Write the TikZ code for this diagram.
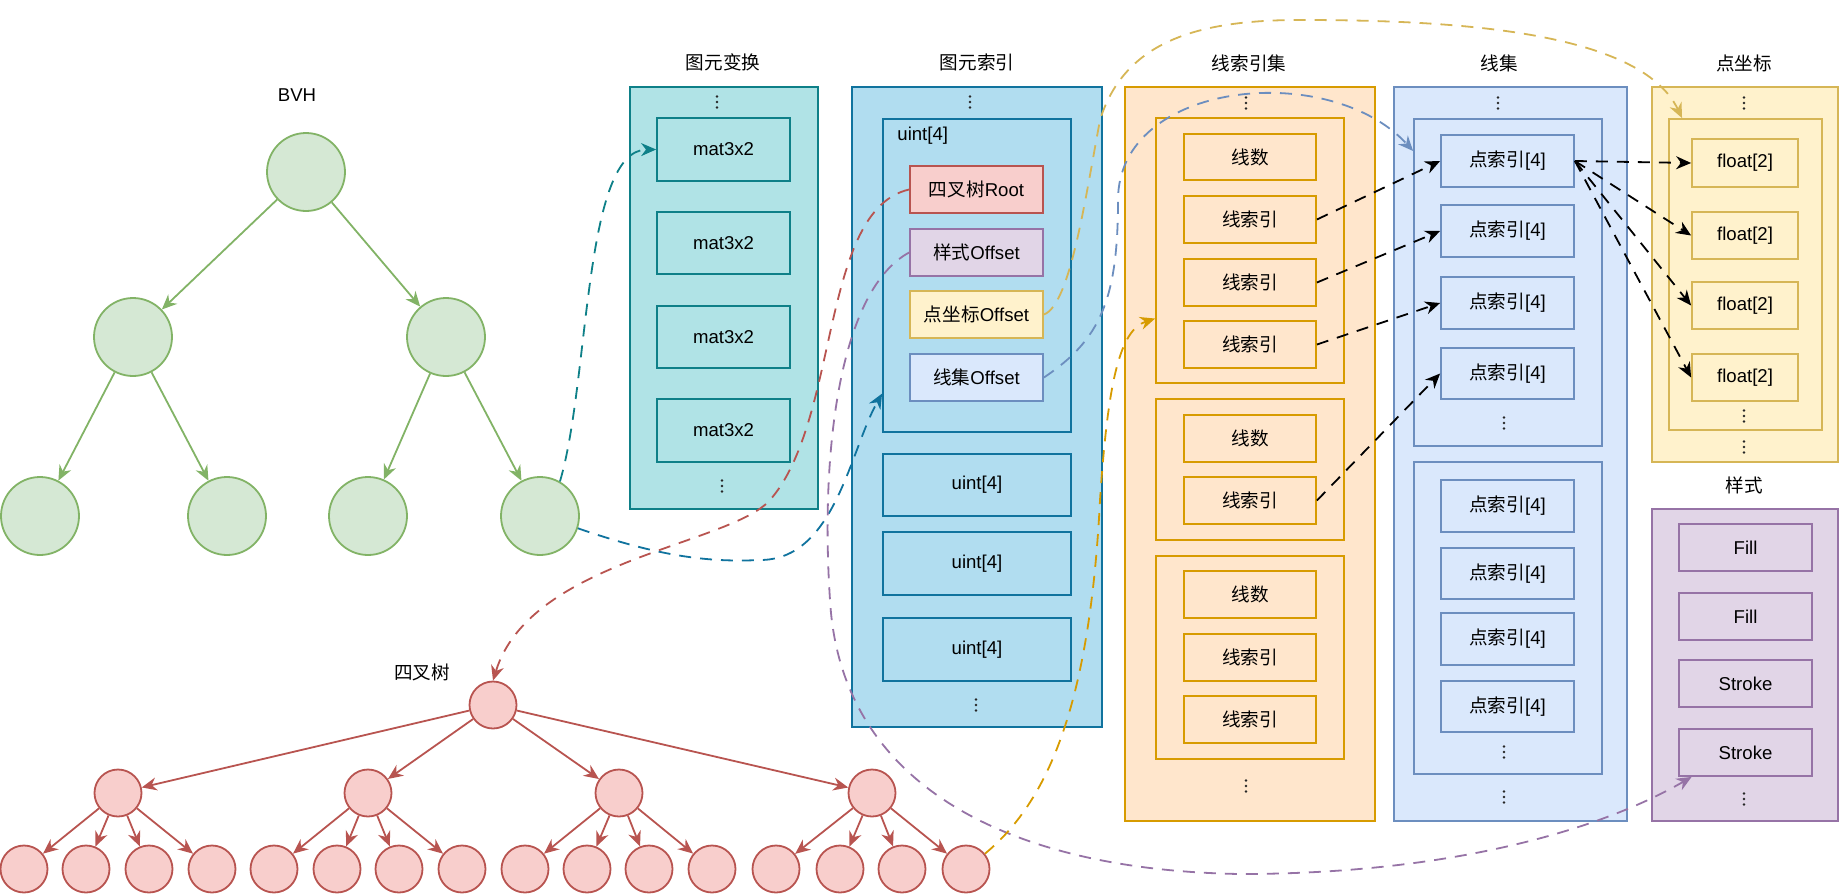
\documentclass[tikz,border=0pt]{standalone}
\usepackage{fontspec}
\setmainfont{Liberation Sans}
\newfontfamily\cjk{Noto Sans CJK SC}
\usetikzlibrary{arrows.meta,calc}
\newcommand\zh[1]{{\cjk #1}}
\definecolor{gfill}{HTML}{D5E8D4}\definecolor{gline}{HTML}{82B366}
\definecolor{rfill}{HTML}{F8CECC}\definecolor{rline}{HTML}{B85450}
\definecolor{tfill}{HTML}{B0E3E6}\definecolor{tline}{HTML}{0E8088}
\definecolor{bfill}{HTML}{B1DDF0}\definecolor{bline}{HTML}{10739E}
\definecolor{yfill}{HTML}{FFF2CC}\definecolor{yline}{HTML}{D6B656}
\definecolor{ofill}{HTML}{FFE6CC}\definecolor{oline}{HTML}{D79B00}
\definecolor{lfill}{HTML}{DAE8FC}\definecolor{lline}{HTML}{6C8EBF}
\definecolor{pfill}{HTML}{E1D5E7}\definecolor{pline}{HTML}{9673A6}
\newcommand\mybox[7]{\pgfmathsetmacro\myW{(#4-#2)/2}\pgfmathsetmacro\myH{(#5-#3)/2}%
  \node[#6,minimum width=\myW pt,minimum height=\myH pt] (#1) at ({(#2+#4)/2},{(#3+#5)/2}) {#7};}
\newcommand\vdt[2]{\fill[black!85] (#1,#2) ++(0,-5.5) circle[radius=0.7pt] (#1,#2) circle[radius=0.7pt] (#1,#2) ++(0,5.5) circle[radius=0.7pt];}
\tikzset{
  box/.style={draw,line width=0.9pt,inner sep=0pt},
  tbox/.style={box,draw=tline,fill=tfill},
  bbox/.style={box,draw=bline,fill=bfill},
  rbox/.style={box,draw=rline,fill=rfill},
  ybox/.style={box,draw=yline,fill=yfill},
  obox/.style={box,draw=oline,fill=ofill},
  lbox/.style={box,draw=lline,fill=lfill},
  pbox/.style={box,draw=pline,fill=pfill},
  gnode/.style={circle,draw=gline,fill=gfill,line width=0.9pt,minimum size=39pt,inner sep=0pt},
  rnode/.style={circle,draw=rline,fill=rfill,line width=0.9pt,minimum size=23.5pt,inner sep=0pt},
  tip/.style={-{Stealth[length=7.5pt,width=6.5pt]}},
  garrow/.style={tip,draw=gline,line width=0.9pt},
  rarrow/.style={tip,draw=rline,line width=0.9pt},
  dlink/.style={tip,line width=0.9pt,dash pattern=on 6pt off 4.5pt},
}
\begin{document}
\begin{tikzpicture}[x=0.5pt,y=-0.5pt,font=\fontsize{9.3}{11}\selectfont]
\useasboundingbox (0,0) rectangle (1840,894);
% ---------- labels ----------
\node (tBVH) at (297,95) {BVH};
\node (tQT) at (422,672) {\zh{四叉树}};
\node (tT) at (723,62) {\zh{图元变换}};
\node (tB) at (977,62) {\zh{图元索引}};
\node (tO) at (1249,63) {\zh{线索引集}};
\node (tL) at (1499,63) {\zh{线集}};
\node (tY) at (1744,63) {\zh{点坐标}};
\node (tP) at (1744,485) {\zh{样式}};
% ---------- BVH ----------
\node[gnode] (g0) at (306,172) {};
\node[gnode] (g1) at (133,337) {};
\node[gnode] (g2) at (446,337) {};
\node[gnode] (g3) at (40,516) {};
\node[gnode] (g4) at (227,516) {};
\node[gnode] (g5) at (368,516) {};
\node[gnode] (g6) at (540,516) {};
\draw[garrow] (g0) -- (g1);
\draw[garrow] (g0) -- (g2);
\draw[garrow] (g1) -- (g3);
\draw[garrow] (g1) -- (g4);
\draw[garrow] (g2) -- (g5);
\draw[garrow] (g2) -- (g6);
% ---------- quad tree ----------
\node[rnode] (r0) at (493,705) {};
\foreach \x [count=\i] in {118,368,619,872} \node[rnode] (r\i) at (\x,793) {};
\foreach \x [count=\i] in {24,86,149,212,274,337,399,462,525,587,649,712,776,840,902,966}
  \node[rnode] (rl\i) at (\x,869) {};
\foreach \i in {1,...,4} \draw[rarrow] (r0) -- (r\i);
\foreach \i in {1,...,16} {\pgfmathtruncatemacro\p{int((\i-1)/4)+1}\draw[rarrow] (r\p) -- (rl\i);}
% ---------- 图元变换 ----------
\mybox{T}{630}{87}{818}{509}{tbox}{}
\mybox{m1}{657}{118}{790}{181}{tbox}{mat3x2}
\mybox{m2}{657}{212}{790}{274}{tbox}{mat3x2}
\mybox{m3}{657}{306}{790}{368}{tbox}{mat3x2}
\mybox{m4}{657}{399}{790}{462}{tbox}{mat3x2}
\vdt{717}{102}\vdt{722}{486}
% ---------- 图元索引 ----------
\mybox{B}{852}{87}{1102}{727}{bbox}{}
\mybox{U}{883}{119}{1071}{432}{bbox}{}
\node[anchor=west,inner sep=0pt] (Ulab) at (897,136) {uint[4]};
\mybox{rt}{910}{166}{1043}{213}{rbox}{\zh{四叉树}Root}
\mybox{so}{910}{229}{1043}{276}{pbox}{\zh{样式}Offset}
\mybox{po}{910}{291}{1043}{338}{ybox}{\zh{点坐标}Offset}
\mybox{lo}{910}{354}{1043}{401}{lbox}{\zh{线集}Offset}
\mybox{u2}{883}{454}{1071}{516}{bbox}{uint[4]}
\mybox{u3}{883}{532}{1071}{595}{bbox}{uint[4]}
\mybox{u4}{883}{618}{1071}{681}{bbox}{uint[4]}
\vdt{970}{102}\vdt{976}{705}
% ---------- 线索引集 ----------
\mybox{O}{1125}{87}{1375}{821}{obox}{}
\mybox{og1}{1156}{118}{1344}{383}{obox}{}
\mybox{ld1}{1184}{134}{1316}{180}{obox}{\zh{线数}}
\mybox{li1}{1184}{196}{1316}{243}{obox}{\zh{线索引}}
\mybox{li2}{1184}{259}{1316}{306}{obox}{\zh{线索引}}
\mybox{li3}{1184}{321}{1316}{368}{obox}{\zh{线索引}}
\mybox{og2}{1156}{399}{1344}{540}{obox}{}
\mybox{ld2}{1184}{415}{1316}{462}{obox}{\zh{线数}}
\mybox{li4}{1184}{477}{1316}{524}{obox}{\zh{线索引}}
\mybox{og3}{1156}{556}{1344}{759}{obox}{}
\mybox{ld3}{1184}{571}{1316}{618}{obox}{\zh{线数}}
\mybox{li5}{1184}{634}{1316}{681}{obox}{\zh{线索引}}
\mybox{li6}{1184}{696}{1316}{743}{obox}{\zh{线索引}}
\vdt{1246}{103}\vdt{1246}{786}
% ---------- 线集 ----------
\mybox{L}{1394}{87}{1627}{821}{lbox}{}
\mybox{lg1}{1414}{119}{1602}{446}{lbox}{}
\mybox{pi1}{1441}{135}{1574}{187}{lbox}{\zh{点索引}[4]}
\mybox{pi2}{1441}{205}{1574}{257}{lbox}{\zh{点索引}[4]}
\mybox{pi3}{1441}{277}{1574}{329}{lbox}{\zh{点索引}[4]}
\mybox{pi4}{1441}{348}{1574}{399}{lbox}{\zh{点索引}[4]}
\mybox{lg2}{1414}{462}{1602}{774}{lbox}{}
\mybox{pi5}{1441}{480}{1574}{532}{lbox}{\zh{点索引}[4]}
\mybox{pi6}{1441}{548}{1574}{599}{lbox}{\zh{点索引}[4]}
\mybox{pi7}{1441}{613}{1574}{665}{lbox}{\zh{点索引}[4]}
\mybox{pi8}{1441}{681}{1574}{732}{lbox}{\zh{点索引}[4]}
\vdt{1498}{103}\vdt{1504}{423}\vdt{1504}{752}\vdt{1504}{797}
% ---------- 点坐标 ----------
\mybox{Y}{1652}{87}{1838}{462}{ybox}{}
\mybox{yi}{1669}{119}{1822}{430}{ybox}{}
\mybox{f1}{1692}{139}{1798}{187}{ybox}{float[2]}
\mybox{f2}{1692}{212}{1798}{259}{ybox}{float[2]}
\mybox{f3}{1692}{282}{1798}{329}{ybox}{float[2]}
\mybox{f4}{1692}{354}{1798}{401}{ybox}{float[2]}
\vdt{1744}{103}\vdt{1744}{416}\vdt{1744}{447}
% ---------- 样式 ----------
\mybox{P}{1652}{509}{1838}{821}{pbox}{}
\mybox{fi1}{1679}{524}{1812}{571}{pbox}{Fill}
\mybox{fi2}{1679}{593}{1812}{640}{pbox}{Fill}
\mybox{st1}{1679}{660}{1812}{707}{pbox}{Stroke}
\mybox{st2}{1679}{729}{1812}{776}{pbox}{Stroke}
\vdt{1744}{799}
% ---------- connector end points ----------
\coordinate (uin) at ($(U.south west)!0.125!(U.north west)$);
\coordinate (stin) at ($(st2.south west)!0.1!(st2.south east)$);
\coordinate (yin) at ($(yi.north west)!0.09!(yi.north east)$);
\coordinate (oin) at ($(og1.south west)!0.245!(og1.north west)$);
\coordinate (lin) at ($(lg1.south west)!0.9!(lg1.north west)$);
% ---------- dashed connectors ----------
\draw[dlink,tline] (g6.60) .. controls (590,380) and (583,150) .. (m1.west);
\draw[dlink,bline] (g6.-18) .. controls (650,553) and (700,563) .. (760,560)
  .. controls (835,560) and (850,450) .. (uin);
\draw[dlink,rline] (rt.west) .. controls (820,210) and (840,420) .. (770,500)
  .. controls (730,545) and (530,560) .. (r0.north);
\draw[dlink,pline] (so.west) .. controls (840,290) and (820,450) .. (830,600)
  .. controls (840,780) and (1000,870) .. (1240,874)
  .. controls (1450,874) and (1600,830) .. (stin);
\draw[dlink,yline] (po.east) .. controls (1070,305) and (1085,200) .. (1100,120)
  .. controls (1125,40) and (1200,20) .. (1300,20)
  .. controls (1450,20) and (1640,30) .. (yin);
\draw[dlink,oline] (rl16.39) .. controls (1050,800) and (1090,700) .. (1100,500)
  .. controls (1108,380) and (1120,330) .. (oin);
\draw[dlink,lline] (lo.east) .. controls (1100,340) and (1118,300) .. (1118,200)
  .. controls (1118,80) and (1330,60) .. (lin);
\draw[dlink] (li1.east) -- (pi1.west);
\draw[dlink] (li2.east) -- (pi2.west);
\draw[dlink] (li3.east) -- (pi3.west);
\draw[dlink] (li4.east) -- (pi4.west);
\draw[dlink] (pi1.east) -- (f1.west);
\draw[dlink] (pi1.east) -- (f2.west);
\draw[dlink] (pi1.east) -- (f3.west);
\draw[dlink] (pi1.east) -- (f4.west);
\end{tikzpicture}
\end{document}
